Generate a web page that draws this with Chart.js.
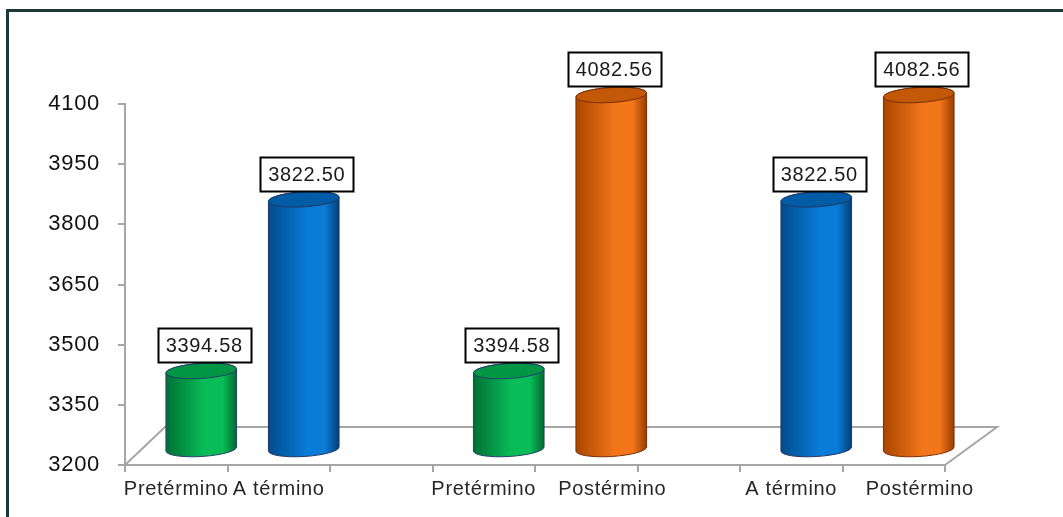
<!DOCTYPE html>
<html>
<head>
<meta charset="utf-8">
<script src="https://cdn.jsdelivr.net/npm/chart.js@4/dist/chart.umd.min.js"></script>
<style>
  html, body { margin: 0; padding: 0; background: #fff; overflow: hidden; }
  #wrap { position: relative; width: 1063px; height: 517px; }
  #frame {
    position: absolute; left: 6px; top: 9px; width: 1100px; height: 560px;
    border-top: 3px solid #173a33; border-left: 3px solid #173a33;
    pointer-events: none;
  }
  #chart { position: absolute; left: 0; top: 0; }
</style>
</head>
<body>
<div id="wrap">
  <div id="frame"></div>
  <canvas id="chart" width="1063" height="517"></canvas>
</div>
<script>
// Peso al nacer por grupo (comparaciones por pares, con huecos entre pares)
const categories = ['Pretérmino', 'A término', '', 'Pretérmino', 'Postérmino', '', 'A término', 'Postérmino'];
const values = [3394.58, 3822.50, null, 3394.58, 4082.56, null, 3822.50, 4082.56];
const yTicks = [3200, 3350, 3500, 3650, 3800, 3950, 4100];

// ─── Cylinder palettes ───────────────────────────────────────────────────────
const palette = {
  'Pretérmino': { dark: '#007035', mid: '#08bd58', edge: '#006a30', top: '#009644', line: '#243f6e' },
  'A término':  { dark: '#004c8c', mid: '#0a7bd6', edge: '#003f78', top: '#005ca6', line: '#1f3864' },
  'Postérmino': { dark: '#a94600', mid: '#f3761a', edge: '#9a3c00', top: '#c25808', line: '#7a2e00' },
};

// long labels sit under the cylinder rather than the category centre
const labelShift = { 'Postérmino': 26 };

const FONT = '"Liberation Sans", Arial, sans-serif';
const DEPTH_X = 25;     // cylinders sit half way into the floor
const DEPTH_Y = -16;
const TILT = -0.06;

function drawFloor(chart) {
  const { ctx, chartArea: a } = chart;
  ctx.save();
  ctx.strokeStyle = '#a6a6a6';
  ctx.lineWidth = 2;
  ctx.beginPath();
  ctx.moveTo(a.left, a.bottom);
  ctx.lineTo(a.left + 40, a.bottom - 38);
  ctx.lineTo(a.right + 52, a.bottom - 38);
  ctx.lineTo(a.right, a.bottom);
  ctx.stroke();
  ctx.restore();
}

function drawCylinder(ctx, cx, topY, botY, rx, ry, p) {
  const c = Math.cos(TILT), s = Math.sin(TILT);
  const g = ctx.createLinearGradient(cx - rx, 0, cx + rx, 0);
  g.addColorStop(0, p.dark);
  g.addColorStop(0.55, p.mid);
  g.addColorStop(0.8, p.mid);
  g.addColorStop(1, p.edge);

  ctx.save();
  ctx.lineWidth = 1;
  ctx.strokeStyle = p.line;

  // body
  ctx.beginPath();
  ctx.ellipse(cx, botY, rx, ry, TILT, 0, Math.PI);
  ctx.lineTo(cx - rx * c, topY - rx * s);
  ctx.ellipse(cx, topY, rx, ry, TILT, Math.PI, Math.PI * 2);
  ctx.closePath();
  ctx.fillStyle = g;
  ctx.fill();
  ctx.stroke();

  // lid
  ctx.beginPath();
  ctx.ellipse(cx, topY, rx, ry, TILT, 0, Math.PI * 2);
  ctx.fillStyle = p.top;
  ctx.fill();
  ctx.stroke();
  ctx.restore();
}

function drawValueBox(ctx, cx, bottom, text) {
  ctx.save();
  ctx.font = '20px ' + FONT;
  const w = Math.round(ctx.measureText(text).width) + 16;
  const h = 34;
  const x = Math.round(cx - w / 2) + 0.5, y = Math.round(bottom - h) + 0.5;
  ctx.fillStyle = '#fff';
  ctx.fillRect(x, y, w, h);
  ctx.lineWidth = 2;
  ctx.strokeStyle = '#000';
  ctx.strokeRect(x, y, w, h);
  ctx.fillStyle = '#1a1a1a';
  ctx.textAlign = 'center';
  ctx.textBaseline = 'middle';
  ctx.fillText(text, cx, y + h / 2 + 1);
  ctx.restore();
}

function drawCategoryLabels(chart) {
  const { ctx } = chart;
  const x = chart.scales.x;
  ctx.save();
  ctx.font = '20px ' + FONT;
  ctx.fillStyle = '#262626';
  ctx.textAlign = 'center';
  ctx.textBaseline = 'top';
  categories.forEach((label, i) => {
    if (!label) return;
    ctx.fillText(label, x.getPixelForTick(i) + (labelShift[label] || 0), x.top + 14);
  });
  ctx.restore();
}

const cylinders = {
  id: 'cylinders',
  beforeDraw(chart) {
    chart.ctx.letterSpacing = '0.7px';
  },
  beforeDatasetsDraw(chart) {
    drawFloor(chart);
  },
  afterDatasetsDraw(chart) {
    const { ctx } = chart;
    const meta = chart.getDatasetMeta(0);
    const base = chart.scales.y.getPixelForValue(yTicks[0]);
    meta.data.forEach((bar, i) => {
      if (values[i] == null) return;
      const p = palette[categories[i]];
      const rx = bar.width / 2, ry = 7.5;
      const cx = bar.x + DEPTH_X;
      const topY = bar.y + DEPTH_Y;
      drawCylinder(ctx, cx, topY, base + DEPTH_Y, rx, ry, p);
      drawValueBox(ctx, cx + 3, topY - ry - 1, values[i].toFixed(2));
    });
    drawCategoryLabels(chart);
  },
  afterDraw(chart) {
    chart.ctx.letterSpacing = '0px';
  },
};

new Chart(document.getElementById('chart'), {
  type: 'bar',
  data: {
    labels: categories,
    datasets: [{
      data: values,
      backgroundColor: 'rgba(0,0,0,0)',
      borderWidth: 0,
      categoryPercentage: 1,
      barPercentage: 0.69,
    }],
  },
  options: {
    responsive: false,
    animation: false,
    devicePixelRatio: 1,
    layout: { padding: { top: 104, right: 118, left: 0, bottom: 0 } },
    plugins: { legend: { display: false }, tooltip: { enabled: false } },
    scales: {
      x: {
        grid: { offset: true, drawOnChartArea: false, tickLength: 7, color: '#a6a6a6', lineWidth: 2 },
        border: { color: '#a6a6a6', width: 2 },
        ticks: { display: false },
        afterFit(scale) { scale.height = 52; },
      },
      y: {
        min: yTicks[0],
        max: yTicks[yTicks.length - 1],
        afterBuildTicks(scale) { scale.ticks = yTicks.map(v => ({ value: v })); },
        grid: { drawOnChartArea: false, tickLength: 7, color: '#a6a6a6', lineWidth: 2 },
        border: { color: '#a6a6a6', width: 2 },
        ticks: { color: '#111', padding: 18, callback: v => String(v),
                 font: { family: FONT, size: 22 } },
        afterFit(scale) { scale.width = 125; },
      },
    },
  },
  plugins: [cylinders],
});
</script>
</body>
</html>
